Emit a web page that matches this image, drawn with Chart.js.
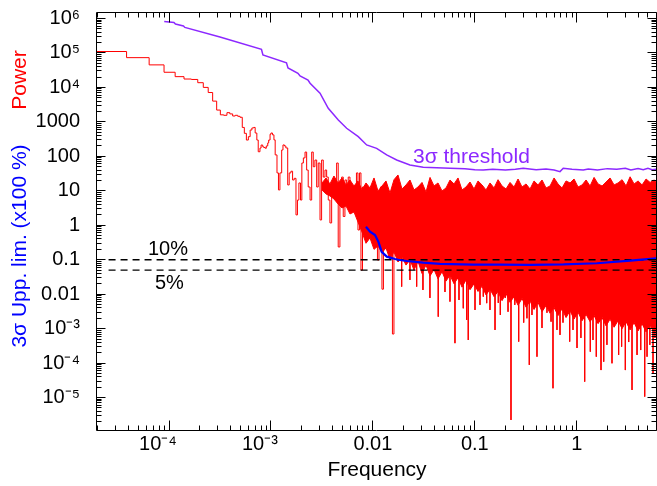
<!DOCTYPE html>
<html>
<head>
<meta charset="utf-8">
<script src="https://cdn.jsdelivr.net/npm/chart.js@4.4.1/dist/chart.umd.min.js"></script>
<style>
html,body{margin:0;padding:0;background:#fff;}
canvas{display:block;}
</style>
</head>
<body>
<canvas id="c" width="657" height="486"></canvas>
<script>
// ---------------- axis ranges & tick labels ----------------
const xMin = 1.92e-5, xMax = 6.0;
const yMin = 1.15e-6, yMax = 1.54e6;
const xTickValues = [1e-4, 1e-3, 1e-2, 1e-1, 1];
const xTickLabels = ['10\u207B\u2074', '10\u207B\u00B3', '0.01', '0.1', '1'];
const yTickValues = [1e6, 1e5, 1e4, 1e3, 100, 10, 1, 0.1, 0.01, 1e-3, 1e-4, 1e-5];
const yTickLabels = ['10\u2076', '10\u2075', '10\u2074', '1000', '100', '10', '1', '0.1', '0.01',
                     '10\u207B\u00B3', '10\u207B\u2074', '10\u207B\u2075'];

// ---------------- power spectrum (red), low-frequency bins + transition ----------------
const powerFreq = [
  1.28e-5, 3.83e-5, 6.38e-5, 8.93e-5, 1.148e-4, 1.403e-4, 1.658e-4, 1.913e-4, 2.168e-4, 2.423e-4,
  2.678e-4, 2.933e-4, 3.188e-4, 3.44e-4, 3.70e-4, 3.95e-4, 4.21e-4, 4.46e-4, 4.72e-4, 4.97e-4,
  5.23e-4, 5.48e-4, 5.74e-4, 6.0e-4, 6.25e-4, 6.5e-4, 6.76e-4, 7.0e-4, 7.27e-4, 7.5e-4,
  7.8e-4, 8.0e-4, 8.3e-4, 8.5e-4, 8.8e-4, 9.0e-4, 9.3e-4, 9.5e-4, 9.8e-4, 1.0e-3,
  1.035e-3, 1.07e-3, 1.10e-3, 1.146e-3, 1.185e-3, 1.225e-3, 1.274e-3, 1.312e-3, 1.357e-3, 1.40e-3,
  1.46e-3, 1.51e-3, 1.57e-3, 1.63e-3, 1.69e-3, 1.76e-3, 1.82e-3, 1.88e-3, 1.95e-3, 2.01e-3,
  2.08e-3, 2.16e-3, 2.24e-3, 2.32e-3, 2.42e-3, 2.51e-3, 2.60e-3, 2.70e-3, 2.81e-3, 2.91e-3,
  3.03e-3, 3.14e-3, 3.26e-3, 3.39e-3, 3.52e-3, 3.65e-3, 3.79e-3, 3.94e-3, 4.08e-3, 4.25e-3,
  4.41e-3, 4.57e-3, 4.75e-3, 4.94e-3, 5.12e-3, 5.32e-3, 5.53e-3, 5.73e-3, 5.96e-3, 6.19e-3,
  6.42e-3, 6.67e-3, 6.90e-3, 7.14e-3, 7.39e-3, 7.64e-3, 7.91e-3, 8.18e-3, 8.46e-3, 8.75e-3,
  9.06e-3, 9.37e-3, 9.69e-3, 1.003e-2, 1.037e-2, 1.072e-2, 1.109e-2, 1.148e-2, 1.187e-2, 1.228e-2,
  1.27e-2, 1.314e-2, 1.36e-2, 1.406e-2, 1.455e-2, 1.505e-2, 1.556e-2, 1.61e-2, 1.667e-2, 1.724e-2,
  1.78e-2
];
const powerVal = [
  1.1e5, 7.3e4, 4.5e4, 2.75e4, 2.05e4, 1.75e4, 1.7e4, 1.37e4, 1.0e4, 7.1e3,
  4.0e3, 2.2e3, 1.6e3, 1.55e3, 1.85e3, 1.7e3, 1.48e3, 1.55e3, 1.45e3, 1.36e3,
  690, 465, 297, 372, 580, 665, 690, 475, 297, 136,
  174, 213, 190, 180, 171, 200, 245, 297, 437, 475,
  420, 300, 110, 33, 10.6, 33, 153, 214, 200, 175,
  14.8, 33, 37, 20.6, 23, 2.0, 5.4, 16.9, 5.4, 64,
  90, 133, 40, 12.9, 5.4, 133, 50, 78, 12.9, 64,
  1.43, 78, 25, 40, 25, 5.4, 1.17, 16.9, 20.6, 12.9,
  64, 0.235, 5.4, 25, 1.8, 20.6, 12.9, 25, 3.4, 12.9,
  9.3, 4.7, 33, 0.73, 33, 0.05, 12.9, 12.9, 2.3, 1.43,
  10.6, 1.43, 8.6, 0.6, 5.4, 4.4, 0.098, 3.4, 12.9, 0.014,
  2.8, 16.9, 0.45, 6.6, 1.43, 0.375, 7e-4, 12.9, 2.8, 20.6,
  0.73
];

// ---------------- power spectrum (red), dense high-frequency part: upper / lower edges ----------------
const bandFreq = [
  3.17e-3, 3.47e-3, 3.79e-3, 4.15e-3, 4.55e-3, 4.98e-3, 5.45e-3, 5.96e-3, 6.53e-3, 7.14e-3,
  7.82e-3, 8.56e-3, 9.37e-3, 1.026e-2, 1.123e-2, 1.229e-2, 1.345e-2, 1.473e-2, 1.612e-2, 1.764e-2,
  1.931e-2, 2.114e-2, 2.314e-2, 2.533e-2, 2.773e-2, 3.035e-2, 3.322e-2, 3.637e-2, 3.981e-2, 4.357e-2,
  4.77e-2, 5.221e-2, 5.715e-2, 6.256e-2, 6.848e-2, 7.496e-2, 8.205e-2, 8.981e-2, 9.831e-2, 0.1076,
  0.1178, 0.1289, 0.1411, 0.1545, 0.1691, 0.1851, 0.2026, 0.2218, 0.2428, 0.2657,
  0.2909, 0.3184, 0.3485, 0.3815, 0.4176, 0.4571, 0.5003, 0.5477, 0.5995, 0.6562,
  0.7183, 0.7863, 0.8607, 0.9421, 1.031, 1.129, 1.236, 1.353, 1.481, 1.621,
  1.774, 1.942, 2.126, 2.327, 2.547, 2.788, 3.052, 3.341, 3.657, 4.003,
  4.382, 4.796, 5.25, 5.747, 6.29
];
const bandUpper = [
  16.9, 23.6, 15.8, 26.9, 16.9, 23.6, 14.8, 20.6, 13.8, 19.3,
  10.6, 16.9, 12.1, 23.6, 9.9, 13.8, 19.3, 8.6, 21.0, 28.8,
  11.3, 14.8, 20.6, 10.6, 12.9, 17.5, 9.2, 24.5, 13.8, 16.9,
  9.9, 12.1, 20.6, 15.8, 23.6, 10.6, 12.9, 18.0, 11.3, 19.3,
  14.8, 10.6, 16.9, 12.1, 21.0, 13.8, 11.3, 17.5, 12.9, 22.0,
  12.9, 15.8, 11.3, 19.3, 14.8, 20.6, 12.1, 13.8, 23.6, 15.8,
  12.1, 19.3, 16.9, 22.0, 12.9, 14.8, 20.6, 13.8, 24.5, 15.8,
  13.8, 18.0, 23.6, 14.8, 16.9, 21.0, 13.8, 25.5, 15.8, 19.3,
  14.8, 22.0, 17.5, 20.6, 16.9
];
const bandLower = [
  10.6, 8.1, 7.1, 5.8, 4.15, 3.18, 3.63, 2.13, 2.43, 1.25,
  0.64, 0.30, 0.43, 0.20, 0.25, 0.16, 0.22, 0.10, 0.17, 0.086,
  0.12, 0.07, 0.10, 0.05, 0.09, 0.04, 0.07, 0.034, 0.052, 0.028,
  0.045, 0.024, 0.036, 0.02, 0.03, 0.016, 0.026, 0.0135, 0.02, 0.012,
  0.017, 0.0095, 0.014, 0.0085, 0.012, 0.0065, 0.0105, 0.0058, 0.0085, 0.0048,
  0.0075, 0.0042, 0.0064, 0.0036, 0.0058, 0.0031, 0.0047, 0.0028, 0.0041, 0.0024,
  0.0038, 0.0021, 0.0033, 0.0019, 0.003, 0.0017, 0.0026, 0.0016, 0.0024, 0.0014,
  0.0021, 0.0012, 0.0019, 0.0011, 0.0017, 0.001, 0.0016, 0.00092, 0.0015, 0.00086,
  0.0014, 0.0008, 0.0013, 0.00075, 0.0012
];
// deep downward spikes of the dense part
const spikeBase = 1;
const spikeFreq = [
  0.01917, 0.0231, 0.0269, 0.031, 0.0363, 0.0438, 0.051, 0.0571, 0.0639, 0.07,
  0.0771, 0.0833, 0.0863, 0.1005, 0.1125, 0.1212, 0.1309, 0.141, 0.158, 0.170,
  0.178, 0.199, 0.212, 0.2266, 0.247, 0.2697, 0.302, 0.325, 0.3426, 0.3641,
  0.4077, 0.4565, 0.511, 0.56, 0.5854, 0.6407, 0.686, 0.7338, 0.8537, 0.92,
  1.007, 1.10, 1.198, 1.36, 1.445, 1.557, 1.732, 1.841, 1.98, 2.22,
  2.58, 2.76, 3.0, 3.24, 3.49, 3.91, 4.25, 4.65, 4.9, 5.22,
  5.61, 5.86
];
const spikeDepth = [
  0.0166, 0.026, 0.0166, 0.0133, 0.0078, 0.00223, 0.0116, 0.0061, 3.8e-4, 0.0068,
  0.0039, 0.0018, 4.7e-4, 0.0035, 0.0049, 0.0085, 0.0055, 0.0035, 9.2e-4, 0.0056,
  0.0025, 0.0078, 0.0031, 2.25e-6, 0.0049, 4.2e-4, 0.0015, 0.0020, 8.9e-5, 0.0025,
  1.54e-4, 0.00105, 0.0029, 0.0016, 1.87e-5, 9.2e-4, 6.6e-4, 0.0015, 4.2e-4, 9.2e-4,
  2.75e-4, 5.4e-4, 2.9e-5, 2.15e-4, 4.7e-4, 1.54e-4, 6.3e-5, 1.1e-4, 3.4e-4, 9.9e-5,
  1.73e-4, 3.0e-4, 6.3e-5, 4.1e-4, 1.67e-5, 1.73e-4, 2.4e-4, 1.07e-5, 1.54e-4, 3.4e-4,
  5.1e-5, 5.4e-4
];

// ---------------- 3 sigma threshold (purple) ----------------
const thrFreq = [
  8.97e-5, 1.117e-4, 1.156e-4, 1.384e-4, 1.43e-4, 3.16e-4, 8.07e-4, 8.34e-4, 1.42e-3, 1.47e-3,
  1.84e-3, 1.93e-3, 2.31e-3, 2.42e-3, 3.03e-3, 3.65e-3, 4.58e-3, 5.53e-3, 7.19e-3, 8.69e-3,
  1.089e-2, 1.366e-2, 1.713e-2, 2.31e-2, 3.12e-2, 5.71e-2, 0.08, 0.1, 0.121, 0.15,
  0.2, 0.25, 0.299, 0.4, 0.5, 0.6, 0.686, 0.738, 0.9, 1.16,
  1.3, 1.6, 2.0, 2.47, 3.0, 3.4, 4.0, 4.5, 5.0, 5.5,
  6.3
];
const thrVal = [
  8.1e5, 7.65e5, 6.9e5, 6.05e5, 5.5e5, 2.9e5, 1.28e5, 8.7e4, 5.2e4, 3.66e4,
  2.57e4, 2.14e4, 1.64e4, 1.32e4, 6.76e3, 2.48e3, 1.13e3, 652, 372, 214,
  171, 110, 78.5, 56, 48, 45, 44, 41, 40, 42,
  40, 42, 45, 41, 43, 40, 36, 45, 42, 40,
  43, 40, 44, 42, 45, 40, 44, 41, 45, 41,
  43
];

// ---------------- 3 sigma upper limit (blue) ----------------
const ulFreq = [8.55e-3, 9.37e-3, 1.05e-2, 1.13e-2, 1.175e-2, 1.22e-2, 1.37e-2, 1.65e-2, 1.78e-2, 2.15e-2,
                3.12e-2, 4.56e-2, 9.66e-2, 0.177, 0.348, 0.745, 1.58, 3.36, 6.14];
const ulVal  = [0.91, 0.65, 0.52, 0.34, 0.24, 0.17, 0.123, 0.105, 0.10, 0.092,
                0.082, 0.076, 0.072, 0.072, 0.071, 0.073, 0.079, 0.094, 0.11];

// ---------------- reference levels (dashed) ----------------
const refFreq = [2.55e-5, 6.3];
const refLevels = [0.1, 0.05];
const refLabels = ['10%', '5%'];

// ---------------- colours ----------------
const RED = '#ff0000', PURPLE = '#8c28ff', BLUE = '#0000ff';
const FONT = '"Liberation Sans", Arial, Helvetica, sans-serif';

const pts = (xs, ys) => xs.map((x, i) => ({x, y: ys[i]}));
const spikePts = [];
spikeFreq.forEach((f, i) => {
  spikePts.push({x: f, y: spikeBase}, {x: f, y: spikeDepth[i]}, {x: f, y: null});
});

function logTickList(min, max) {
  const out = [];
  for (let e = Math.floor(Math.log10(min)); e <= Math.ceil(Math.log10(max)); e++) {
    for (let m = 1; m <= 9; m++) {
      const v = m * Math.pow(10, e);
      if (v >= min && v <= max) out.push({v, major: m === 1});
    }
  }
  return out;
}

const framePlugin = {
  id: 'frame',
  afterDatasetsDraw(chart) {
    const {ctx, chartArea: a, scales: {x, y}} = chart;
    const L = Math.floor(a.left) + 0.5, R = Math.floor(a.right) + 0.5;
    const T = Math.floor(a.top) + 0.5, B = Math.floor(a.bottom) + 0.5;
    ctx.save();
    ctx.strokeStyle = '#000';
    ctx.lineWidth = 1;
    ctx.beginPath();
    ctx.rect(L, T, R - L, B - T);
    for (const t of logTickList(xMin, xMax)) {
      const px = Math.floor(x.getPixelForValue(t.v)) + 0.5;
      const len = t.major ? 10 : 5;
      ctx.moveTo(px, B); ctx.lineTo(px, B - len);
      ctx.moveTo(px, T); ctx.lineTo(px, T + len);
    }
    for (const t of logTickList(yMin, yMax)) {
      const py = Math.floor(y.getPixelForValue(t.v)) + 0.5;
      const len = t.major ? 9 : 5;
      ctx.moveTo(L, py); ctx.lineTo(L + len, py);
      ctx.moveTo(R, py); ctx.lineTo(R - len, py);
    }
    ctx.stroke();
    ctx.restore();
  },
  afterDraw(chart) {
    const {ctx} = chart;
    ctx.save();
    ctx.textBaseline = 'alphabetic';
    ctx.textAlign = 'left';
    ctx.fillStyle = '#000';
    ctx.font = '20px ' + FONT;
    ctx.fillText(refLabels[0], 148, 255);
    ctx.fillText(refLabels[1], 155, 289);
    ctx.fillStyle = PURPLE;
    ctx.font = '21px ' + FONT;
    ctx.fillText('3\u03C3 threshold', 413, 163);
    ctx.fillStyle = '#000';
    ctx.textAlign = 'center';
    ctx.fillText('Frequency', 377, 476);
    ctx.save();
    ctx.translate(26, 80); ctx.rotate(-Math.PI / 2);
    ctx.fillStyle = RED; ctx.fillText('Power', 0, 0);
    ctx.restore();
    ctx.save();
    ctx.translate(26, 246); ctx.rotate(-Math.PI / 2);
    ctx.fillStyle = BLUE; ctx.fillText('3\u03C3 Upp. lim. (x100 %)', 0, 0);
    ctx.restore();
    ctx.restore();
  }
};

Chart.defaults.font.family = FONT;
Chart.defaults.color = '#000';

const lineBase = {pointRadius: 0, pointHoverRadius: 0, tension: 0, clip: 0, spanGaps: false};

// exponent-style x labels sit a little left of their tick in the original
const xLabelText = (v) => {
  const s = xTickLabels[xTickValues.indexOf(v)];
  return s.startsWith('10\u207B') ? s + '    ' : s;
};

new Chart(document.getElementById('c'), {
  type: 'line',
  data: {
    datasets: [
      Object.assign({label: '3σ upper limit', data: pts(ulFreq, ulVal), borderColor: BLUE, borderWidth: 2.2, order: 0, fill: false}, lineBase),
      Object.assign({label: refLabels[0], data: pts(refFreq, refFreq.map(() => refLevels[0])), borderColor: '#000', borderWidth: 1.3, borderDash: [7, 5], order: 1, fill: false}, lineBase),
      Object.assign({label: refLabels[1], data: pts(refFreq, refFreq.map(() => refLevels[1])), borderColor: '#000', borderWidth: 1.3, borderDash: [7, 5], order: 1, fill: false}, lineBase),
      Object.assign({label: '3σ threshold', data: pts(thrFreq, thrVal), borderColor: PURPLE, borderWidth: 1.5, order: 2, fill: false}, lineBase),
      Object.assign({label: 'Power', data: pts(powerFreq, powerVal), borderColor: RED, borderWidth: 1, stepped: true, order: 3, fill: false}, lineBase),
      Object.assign({label: 'Power (dips)', data: spikePts, borderColor: RED, borderWidth: 1, order: 4, fill: false}, lineBase),
      Object.assign({label: 'Power (upper)', data: pts(bandFreq, bandUpper), borderColor: RED, backgroundColor: RED, borderWidth: 1, order: 5, fill: '+1'}, lineBase),
      Object.assign({label: 'Power (lower)', data: pts(bandFreq, bandLower), borderColor: RED, borderWidth: 1, order: 5, fill: false}, lineBase)
    ]
  },
  options: {
    responsive: false,
    animation: false,
    devicePixelRatio: 1,
    events: [],
    layout: {padding: {left: 0, right: 1, top: 12, bottom: 0}},
    plugins: {legend: {display: false}, tooltip: {enabled: false}},
    scales: {
      x: {
        type: 'logarithmic', min: xMin, max: xMax,
        grid: {display: false, drawTicks: false, tickLength: 0},
        border: {display: false},
        afterBuildTicks: s => { s.ticks = xTickValues.map(v => ({value: v})); },
        afterFit: s => { s.height = 56; s.paddingLeft = 0; s.paddingRight = 0; },
        ticks: {autoSkip: false, maxRotation: 0, minRotation: 0, padding: 2, color: '#000',
                font: {size: 20}, callback: v => xLabelText(v)}
      },
      y: {
        type: 'logarithmic', min: yMin, max: yMax,
        grid: {display: false, drawTicks: false, tickLength: 0},
        border: {display: false},
        afterBuildTicks: s => { s.ticks = yTickValues.map(v => ({value: v})); },
        afterFit: s => { s.width = 96; s.paddingTop = 0; s.paddingBottom = 0; },
        ticks: {autoSkip: false, padding: 16, color: '#000',
                font: {size: 20}, callback: v => yTickLabels[yTickValues.indexOf(v)]}
      }
    }
  },
  plugins: [framePlugin]
});
</script>
</body>
</html>
